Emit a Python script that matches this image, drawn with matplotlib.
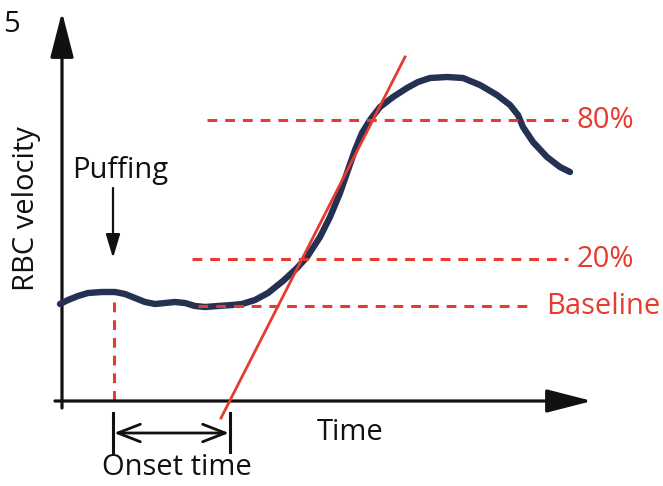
import matplotlib
matplotlib.use('Agg')
import matplotlib.pyplot as plt

# schematic drawn in image-pixel units (x right, y down)
curve_x = [60, 68, 78, 88, 102, 115, 125, 135, 145, 155, 165, 175, 185, 195, 205, 218,
           232, 242, 255, 268, 283, 297, 307, 320, 330, 340, 348, 355, 362, 370, 380,
           393, 407, 418, 430, 447, 463, 480, 497, 510, 518, 523, 533, 547, 560, 570]
curve_y = [304, 300, 296, 293, 292, 292, 294, 298, 302, 304, 303, 302, 303, 306, 307, 306,
           305, 304, 300, 293, 281, 268, 257, 237, 217, 193, 170, 150, 133, 120, 107,
           97, 88, 82, 78, 77, 78, 85, 95, 105, 115, 127, 142, 157, 167, 172]

level_names = ['80%', '20%', 'Baseline']
level_y = [120, 259, 306]
level_x0 = [207, 192, 198]
level_x1 = [568, 568, 530]
label_x = [577, 577, 546]

tangent_x = [405, 221]
tangent_y = [57, 418]

puff_x = 114
onset_x = [113, 230]
x_axis_y = 401
y_axis_x = 62

RED = '#e63b2e'
NAVY = '#253153'
INK = '#111111'
FONT = ['Open Sans', 'DejaVu Sans']
FS = 21

fig = plt.figure(figsize=(6.63, 4.86), dpi=100)
ax = fig.add_axes([0, 0, 1, 1])
ax.set_xlim(0, 663)
ax.set_ylim(486, 0)
ax.axis('off')

# axes arrows
head = '-|>,head_length=1.4,head_width=0.36'
ax.annotate('', xy=(y_axis_x, 12), xytext=(y_axis_x, 408),
            arrowprops=dict(arrowstyle=head, mutation_scale=20, lw=2.3, color=INK,
                            shrinkA=0, shrinkB=0))
ax.annotate('', xy=(592, x_axis_y), xytext=(55, x_axis_y),
            arrowprops=dict(arrowstyle=head, mutation_scale=20, lw=2.3, color=INK,
                            shrinkA=0, shrinkB=0))

# dashed levels (drawn over the curve)
for y, x0, x1, name, lx in zip(level_y, level_x0, level_x1, level_names, label_x):
    ax.plot([x0, x1], [y, y], color=RED, lw=2.2, dashes=(3.2, 2.6),
            solid_capstyle='butt', zorder=4)
    ax.text(lx, y, name, color=RED, fontsize=FS, family=FONT, va='center', ha='left')

# puffing vertical dashed
ax.plot([puff_x, puff_x], [level_y[2] - 4, x_axis_y], color=RED, lw=2.2, dashes=(3.2, 2.6))

# tangent
ax.plot(tangent_x, tangent_y, color=RED, lw=2.0, zorder=5)

# curve
ax.plot(curve_x, curve_y, color=NAVY, lw=4.6, solid_capstyle='round',
        solid_joinstyle='round', zorder=3)

# puffing arrow
ax.annotate('', xy=(puff_x - 1, 258), xytext=(puff_x - 1, 188),
            arrowprops=dict(arrowstyle='-|>,head_length=0.9,head_width=0.27', mutation_scale=16,
                            lw=1.6, color=INK, shrinkA=0, shrinkB=0))
ax.text(120, 170, 'Puffing', fontsize=FS, family=FONT, ha='center', va='center', color=INK)

# onset time
for x in onset_x:
    ax.plot([x, x], [413, 452], color=INK, lw=2.2)
ax.annotate('', xy=(onset_x[0] + 1, 433), xytext=(onset_x[1] - 1, 433),
            arrowprops=dict(arrowstyle='<->,head_length=0.9,head_width=0.35', mutation_scale=18,
                            lw=2.0, color=INK, shrinkA=0, shrinkB=0))
ax.text(177, 467, 'Onset time', fontsize=FS, family=FONT, ha='center', va='center', color=INK)
ax.text(350, 432, 'Time', fontsize=FS, family=FONT, ha='center', va='center', color=INK)
ax.text(27, 209, 'RBC velocity', fontsize=FS, family=FONT, ha='center', va='center',
        rotation=90, color=INK)
ax.text(20, 25, '5', fontsize=FS, family=FONT, ha='right', va='center', color=INK)

fig.savefig('out.png', dpi=100, facecolor='white')
